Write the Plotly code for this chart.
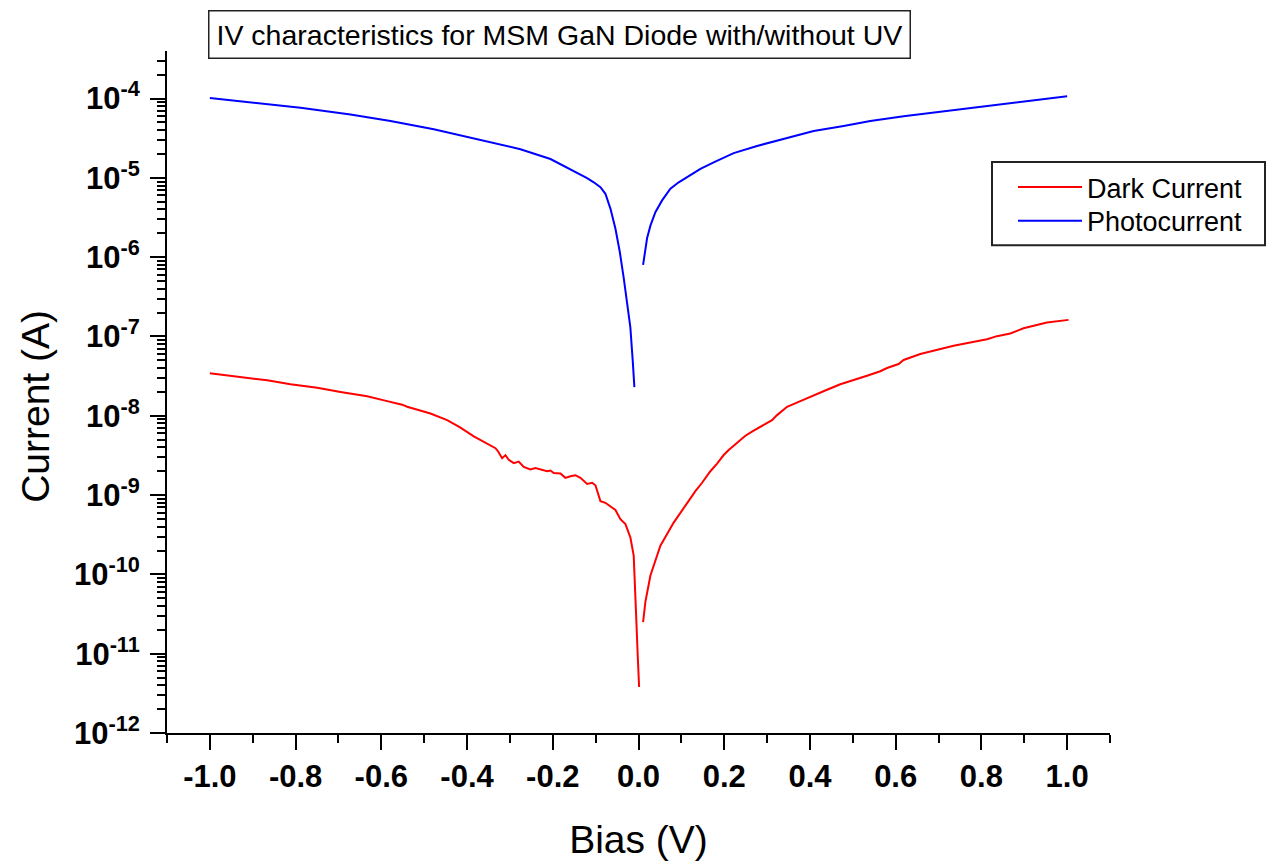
import plotly.graph_objects as go

# Photocurrent (under UV), reverse and forward branches
bias_photo_neg = [-1.0, -0.905, -0.7885, -0.672, -0.5786, -0.4776, -0.3764, -0.2754, -0.2054,
                  -0.1511, -0.1199, -0.1044, -0.0888, -0.0772, -0.0655, -0.0539, -0.0438,
                  -0.0345, -0.0267, -0.019, -0.0135, -0.0096]
photo_neg = [1.02e-4, 9.0e-5, 7.65e-5, 6.3e-5, 5.2e-5, 4.1e-5, 3.07e-5, 2.3e-5, 1.73e-5,
             1.23e-5, 9.9e-6, 8.8e-6, 7.65e-6, 6.3e-6, 4.1e-6, 2.3e-6, 1.18e-6,
             5.5e-7, 2.5e-7, 1.3e-7, 5.0e-8, 2.3e-8]
bias_photo_pos = [0.0107, 0.0138, 0.020, 0.0278, 0.0394, 0.055, 0.0744, 0.0938, 0.1133,
                  0.1444, 0.1754, 0.222, 0.2766, 0.3386, 0.4086, 0.4786, 0.5408, 0.6185,
                  0.6807, 0.7584, 0.8363, 0.914, 1.0]
photo_pos = [8.0e-7, 1.07e-6, 1.73e-6, 2.5e-6, 3.7e-6, 5.2e-6, 7.3e-6, 8.8e-6, 1.02e-5,
             1.3e-5, 1.57e-5, 2.05e-5, 2.53e-5, 3.13e-5, 3.9e-5, 4.5e-5, 5.2e-5, 6.0e-5,
             6.6e-5, 7.4e-5, 8.4e-5, 9.4e-5, 1.07e-4]

# Dark current, reverse and forward branches
bias_dark_neg = [-1.0, -0.944, -0.866, -0.812, -0.7495, -0.6952, -0.633, -0.5863, -0.5513,
                 -0.5397, -0.4853, -0.4464, -0.4153, -0.3843, -0.361, -0.3337, -0.3274,
                 -0.3181, -0.3104, -0.3027, -0.291, -0.2794, -0.2677, -0.2521, -0.2404,
                 -0.2288, -0.2132, -0.2054, -0.1978, -0.1821, -0.1705, -0.1588, -0.1472,
                 -0.1355, -0.1199, -0.1082, -0.1005, -0.0888, -0.0772, -0.0539, -0.0422,
                 -0.0305, -0.0189, -0.0112, -0.0072, -0.0049, -0.0019, 0.0014]
dark_neg = [3.45e-8, 3.16e-8, 2.8e-8, 2.5e-8, 2.26e-8, 2.0e-8, 1.76e-8, 1.53e-8, 1.38e-8,
            1.3e-8, 1.07e-8, 8.8e-9, 7.1e-9, 5.5e-9, 4.7e-9, 3.9e-9, 3.55e-9,
            2.92e-9, 3.19e-9, 2.79e-9, 2.53e-9, 2.64e-9, 2.26e-9, 2.1e-9, 2.19e-9,
            2.1e-9, 2.0e-9, 2.04e-9, 1.9e-9, 1.87e-9, 1.65e-9, 1.73e-9, 1.78e-9,
            1.65e-9, 1.38e-9, 1.43e-9, 1.33e-9, 8.4e-10, 8.0e-10, 6.5e-10, 4.97e-10,
            4.3e-10, 2.92e-10, 1.73e-10, 6.6e-11, 2.5e-11, 9.7e-12, 3.8e-12]
bias_dark_pos = [0.0107, 0.0161, 0.0278, 0.0511, 0.0821, 0.1054, 0.1327, 0.1483, 0.1677,
                 0.1833, 0.1987, 0.2104, 0.23, 0.2493, 0.2687, 0.292, 0.3116, 0.3232,
                 0.3466, 0.3776, 0.4086, 0.4398, 0.4709, 0.5019, 0.5331, 0.5641, 0.5798,
                 0.6068, 0.6185, 0.6574, 0.6964, 0.7351, 0.774, 0.813, 0.8363, 0.8673,
                 0.8983, 0.9216, 0.9529, 1.0033]
dark_pos = [2.5e-11, 4.5e-11, 9.7e-11, 2.3e-10, 4.5e-10, 6.9e-10, 1.12e-9, 1.43e-9, 2.0e-9,
            2.5e-9, 3.2e-9, 3.7e-9, 4.5e-9, 5.6e-9, 6.5e-9, 7.65e-9, 8.8e-9, 1.02e-8,
            1.3e-8, 1.53e-8, 1.82e-8, 2.13e-8, 2.5e-8, 2.8e-8, 3.2e-8, 3.65e-8, 4.0e-8,
            4.5e-8, 5.06e-8, 6.0e-8, 6.75e-8, 7.65e-8, 8.4e-8, 9.25e-8, 1.01e-7, 1.09e-7,
            1.27e-7, 1.36e-7, 1.5e-7, 1.62e-7]

# Axis ticks and labels
x_tick_vals = [-1.0, -0.8, -0.6, -0.4, -0.2, 0.0, 0.2, 0.4, 0.6, 0.8, 1.0]
x_tick_text = ["-1.0", "-0.8", "-0.6", "-0.4", "-0.2", "0.0", "0.2", "0.4", "0.6", "0.8", "1.0"]
y_exponents = [-12, -11, -10, -9, -8, -7, -6, -5, -4]

FONT = "Liberation Sans, Arial, sans-serif"

y_tick_vals = [10.0 ** e for e in y_exponents]
y_tick_text = [f"10<sup>{e}</sup>" for e in y_exponents]
y_minor_vals = [k * 10.0 ** e for e in y_exponents for k in range(2, 10)]

# plot area in pixels: x 167..1110, y 51..739
L, R, T, B = 167, 1110, 51, 739
W, H = R - L, B - T


def px_x(p):
    return (p - L) / W


def px_y(p):
    return (B - p) / H


fig = go.Figure()
fig.add_trace(go.Scatter(
    x=bias_dark_neg + [None] + bias_dark_pos,
    y=dark_neg + [None] + dark_pos,
    mode="lines", name="Dark Current", legend="legend",
    line=dict(color="#ff0000", width=2), connectgaps=False,
))
fig.add_trace(go.Scatter(
    x=bias_photo_neg + [None] + bias_photo_pos,
    y=photo_neg + [None] + photo_pos,
    mode="lines", name="Photocurrent", legend="legend2",
    line=dict(color="#0000ff", width=2), connectgaps=False,
))

legend_style = dict(
    xanchor="left", yanchor="top",
    bgcolor="rgba(0,0,0,0)", borderwidth=0,
    font=dict(family=FONT, size=27, color="black"),
    itemwidth=64,
)

fig.update_layout(
    width=1266, height=866,
    margin=dict(l=L, r=1266 - R, t=T, b=866 - B),
    paper_bgcolor="white", plot_bgcolor="white",
    font=dict(family=FONT, color="black"),
    showlegend=True,
    legend=dict(x=px_x(1013), y=px_y(164), **legend_style),
    legend2=dict(x=px_x(1013), y=px_y(198), **legend_style),
    shapes=[dict(
        type="rect", xref="paper", yref="paper",
        x0=px_x(992), x1=px_x(1265), y0=px_y(247), y1=px_y(163),
        line=dict(color="#222", width=2), fillcolor="white", layer="above",
    )],
    annotations=[
        dict(
            text="IV characteristics for MSM GaN Diode with/without UV",
            xref="paper", yref="paper", x=px_x(559.5), y=px_y(34),
            xanchor="center", yanchor="middle", showarrow=False,
            font=dict(family=FONT, size=28.5, color="black"),
            bordercolor="#222", borderwidth=1.5, borderpad=7, bgcolor="white",
        ),
        dict(
            text="Current (A)", textangle=-90,
            xref="paper", yref="paper", x=px_x(36), y=px_y(410),
            xanchor="center", yanchor="middle", showarrow=False,
            font=dict(family=FONT, size=39, color="black"),
        ),
    ],
)

fig.update_xaxes(
    range=[-1.1, 1.1], showgrid=False, zeroline=False,
    showline=True, linecolor="black", linewidth=2,
    tickmode="array", tickvals=x_tick_vals, ticktext=x_tick_text,
    ticks="outside", ticklen=15, tickwidth=2, tickcolor="black",
    tickfont=dict(family=FONT, size=31, color="black", weight="bold"),
    minor=dict(tickmode="linear", tick0=-1.1, dtick=0.2, ticks="outside",
               ticklen=8, tickwidth=2, tickcolor="black", showgrid=False),
    title=dict(text="Bias (V)", font=dict(family=FONT, size=39, color="black"),
               standoff=32),
)
fig.update_yaxes(
    type="log", range=[-12, -3.4], showgrid=False, zeroline=False,
    showline=True, linecolor="black", linewidth=2,
    tickmode="array", tickvals=y_tick_vals, ticktext=y_tick_text,
    ticks="outside", ticklen=15, tickwidth=2, tickcolor="black",
    tickfont=dict(family=FONT, size=31, color="black", weight="bold"),
    ticklabelstandoff=4,
    minor=dict(tickmode="array", tickvals=y_minor_vals, ticks="outside",
               ticklen=8, tickwidth=2, tickcolor="black", showgrid=False),
)

fig.write_html("out.html")
